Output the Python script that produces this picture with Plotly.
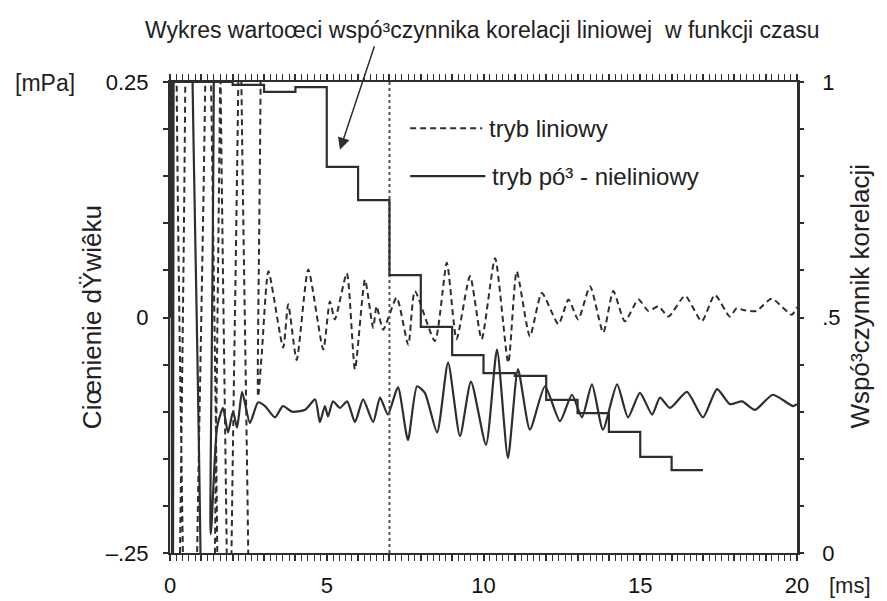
import plotly.graph_objects as go

# ---- data ----
# "tryb liniowy" (dashed), time [ms] and pressure [mPa]; early part saturates beyond the axis range
T_LIN = [0.00, 0.02, 0.30, 0.34, 0.43, 0.47, 0.94, 0.98, 1.32, 1.36, 1.51, 1.55, 1.73, 1.77,
         2.05, 2.09, 2.37, 2.41, 2.70,
         2.81, 2.93, 3.14, 3.61, 3.77, 4.04, 4.41, 4.89, 5.10, 5.26,
         5.64, 5.90, 6.22, 6.48, 6.59, 6.80, 7.23, 7.60, 7.81, 8.45,
         8.83, 9.14, 9.57, 9.94, 10.37, 10.79, 11.06, 11.48, 11.86, 12.39,
         12.71, 13.02, 13.40, 13.82, 14.14, 14.51, 14.94, 15.26, 15.58, 15.90,
         16.43, 16.96, 17.38, 17.86, 18.08, 18.28, 18.71, 19.19, 19.83, 20.00]
V_LIN = [0.0, 0.6, 0.6, -0.6, -0.6, 0.6, 0.6, -0.6, -0.6, 0.6, 0.6, -0.6, -0.6, 0.6,
         0.6, -0.6, -0.6, 0.6, 0.6,
         -0.084, -0.037, 0.049, -0.032, 0.014, -0.045, 0.051, -0.034, 0.017, -0.002,
         0.047, -0.055, 0.040, -0.011, 0.012, -0.013, 0.021, -0.029, 0.028, -0.025,
         0.058, -0.023, 0.044, -0.023, 0.063, -0.048, 0.049, -0.020, 0.026, -0.007,
         0.019, -0.002, 0.033, -0.016, 0.028, -0.004, 0.019, 0.007, 0.012, 0.001,
         0.023, -0.004, 0.024, 0.001, 0.010, 0.008, 0.007, 0.020, 0.003, 0.011]

# "tryb pó³ - nieliniowy" (solid)
T_NL = [0.00, 0.03, 0.08, 0.13, 0.18, 0.75, 0.82, 1.15, 1.30,
        1.50, 1.69, 1.85, 2.01, 2.14, 2.30, 2.55, 2.81, 3.03, 3.35,
        3.60, 3.89, 4.31, 4.63, 4.78, 4.94, 5.04, 5.20, 5.42, 5.65,
        5.90, 6.16, 6.48, 6.70, 6.95, 7.27, 7.59, 7.88, 8.13, 8.52,
        8.87, 9.25, 9.60, 10.08, 10.43, 10.78, 11.10, 11.48, 11.96, 12.44,
        12.82, 13.14, 13.46, 13.81, 14.26, 14.61, 14.99, 15.38, 15.63, 15.95,
        16.49, 17.00, 17.45, 17.86, 18.25, 18.66, 19.23, 19.87, 20.00]
V_NL = [0.0, 0.6, -0.6, 0.6, -0.6, -0.6, 0.6, 0.6, -0.23,
        -0.117, -0.096, -0.122, -0.100, -0.117, -0.079, -0.112, -0.090, -0.094, -0.106,
        -0.094, -0.100, -0.098, -0.087, -0.111, -0.094, -0.105, -0.089, -0.096, -0.089,
        -0.111, -0.087, -0.111, -0.085, -0.103, -0.074, -0.130, -0.073, -0.080, -0.122,
        -0.048, -0.126, -0.068, -0.135, -0.034, -0.149, -0.055, -0.119, -0.073, -0.110,
        -0.082, -0.106, -0.071, -0.119, -0.071, -0.106, -0.080, -0.103, -0.085, -0.096,
        -0.079, -0.106, -0.076, -0.092, -0.089, -0.098, -0.082, -0.094, -0.092]

# correlation coefficient per 1 ms window (right axis)
STEP_T = [0, 1, 2, 3, 4, 5, 6, 7, 8, 9, 10, 11, 12, 13, 14, 15, 16, 17]
STEP_R = [1.0, 1.0, 0.994, 0.979, 0.989, 0.820, 0.749, 0.590, 0.480, 0.420,
          0.382, 0.376, 0.325, 0.297, 0.257, 0.204, 0.176, 0.176]

MARKER_T = 7.0

X_TICKS = list(range(0, 21))
X_LABELS = [str(v) if v % 5 == 0 else "" for v in X_TICKS]
YL_TICKS = [-0.25, -0.2, -0.15, -0.1, -0.05, 0, 0.05, 0.1, 0.15, 0.2, 0.25]
YL_LABELS = ["–.25", "", "", "", "", "0", "", "", "", "", "0.25"]
YR_TICKS = [0, 0.1, 0.2, 0.3, 0.4, 0.5, 0.6, 0.7, 0.8, 0.9, 1.0]
YR_LABELS = ["0", "", "", "", "", ".5", "", "", "", "", "1"]

TITLE = "Wykres wartoœci wspó³czynnika korelacji liniowej  w funkcji czasu"
Y_LEFT = "Ciœnienie dŸwiêku"
Y_RIGHT = "Wspó³czynnik korelacji"
LEG_LIN = "tryb liniowy"
LEG_NL = "tryb pó³ - nieliniowy"

INK = "#2e2e2e"
SANS = "Liberation Sans, Arial, sans-serif"

fig = go.Figure()
fig.add_trace(go.Scatter(x=T_LIN, y=V_LIN, mode="lines", name=LEG_LIN, showlegend=False,
                         line=dict(color=INK, width=2, dash="6px,4px", shape="spline", smoothing=0.6)))
fig.add_trace(go.Scatter(x=T_NL, y=V_NL, mode="lines", name=LEG_NL, showlegend=False,
                         line=dict(color=INK, width=2.2, shape="spline", smoothing=0.6)))
fig.add_trace(go.Scatter(x=STEP_T, y=STEP_R, yaxis="y2", mode="lines", showlegend=False,
                         line=dict(color=INK, width=2.2, shape="hv")))
fig.add_trace(go.Scatter(x=[MARKER_T, MARKER_T], y=[-0.25, 0.25], mode="lines", showlegend=False,
                         line=dict(color="#555555", width=2, dash="dot")))

# legend drawn manually like the original
fig.add_shape(type="line", xref="paper", yref="paper", x0=0.383, x1=0.498, y0=0.902, y1=0.902,
              line=dict(color=INK, width=2, dash="6px,4px"))
fig.add_shape(type="line", xref="paper", yref="paper", x0=0.383, x1=0.503, y0=0.800, y1=0.800,
              line=dict(color=INK, width=2.2))

ann = [
    dict(text=TITLE, x=0.498, y=1.110, xref="paper", yref="paper", showarrow=False,
         font=dict(family=SANS, size=23, color="#222"), xanchor="center", yanchor="middle"),
    dict(text="[mPa]", x=-0.199, y=0.998, xref="paper", yref="paper", showarrow=False,
         font=dict(family=SANS, size=23, color="#222"), xanchor="center", yanchor="middle"),
    dict(text=Y_LEFT, x=-0.125, y=0.50, xref="paper", yref="paper", showarrow=False, textangle=-90,
         font=dict(family=SANS, size=26, color="#222"), xanchor="center", yanchor="middle"),
    dict(text=Y_RIGHT, x=1.100, y=0.544, xref="paper", yref="paper", showarrow=False, textangle=-90,
         font=dict(family=SANS, size=26, color="#222"), xanchor="center", yanchor="middle"),
    dict(text="[ms]", x=1.085, y=-0.068, xref="paper", yref="paper", showarrow=False,
         font=dict(family=SANS, size=22, color="#222"), xanchor="center", yanchor="middle"),
    dict(text=LEG_LIN, x=0.506, y=0.902, xref="paper", yref="paper", showarrow=False,
         font=dict(family=SANS, size=24, color="#222"), xanchor="left", yanchor="middle"),
    dict(text=LEG_NL, x=0.510, y=0.800, xref="paper", yref="paper", showarrow=False,
         font=dict(family=SANS, size=24, color="#222"), xanchor="left", yanchor="middle"),
    dict(text="", x=5.42, y=0.856, xref="x", yref="y2", ax=35, ay=-105, showarrow=True,
         arrowhead=2, arrowsize=1.6, arrowwidth=1.5, arrowcolor=INK),
]

TICKFONT = dict(family=SANS, size=22, color="#111")

fig.update_layout(
    width=887, height=601,
    margin=dict(l=170, r=90, t=82, b=48, autoexpand=False),
    paper_bgcolor="white", plot_bgcolor="white",
    annotations=ann,
    font=dict(family=SANS, color="#222"),
    xaxis=dict(range=[0, 20], tickmode="array", tickvals=X_TICKS, ticktext=X_LABELS,
               ticks="outside", ticklen=6, tickwidth=1.5, tickcolor=INK, ticklabelstandoff=6,
               showline=True, linewidth=2, linecolor=INK, mirror="allticks", automargin=False,
               minor=dict(dtick=0.2, ticks="outside", ticklen=3, tickcolor=INK, tickwidth=1),
               showgrid=False, zeroline=False, tickfont=TICKFONT),
    yaxis=dict(range=[-0.25, 0.25], tickmode="array", tickvals=YL_TICKS, ticktext=YL_LABELS,
               ticks="outside", ticklen=5, tickwidth=1.5, tickcolor=INK, ticklabelstandoff=10,
               showline=True, linewidth=2, linecolor=INK, automargin=False,
               showgrid=False, zeroline=False, tickfont=TICKFONT),
    yaxis2=dict(range=[0, 1], overlaying="y", side="right", tickmode="array",
                tickvals=YR_TICKS, ticktext=YR_LABELS,
                ticks="outside", ticklen=4, tickwidth=1.5, tickcolor=INK, ticklabelstandoff=14,
                showline=True, linewidth=2.5, linecolor=INK, automargin=False,
                showgrid=False, zeroline=False, tickfont=TICKFONT),
)

fig.write_html("out.html")
